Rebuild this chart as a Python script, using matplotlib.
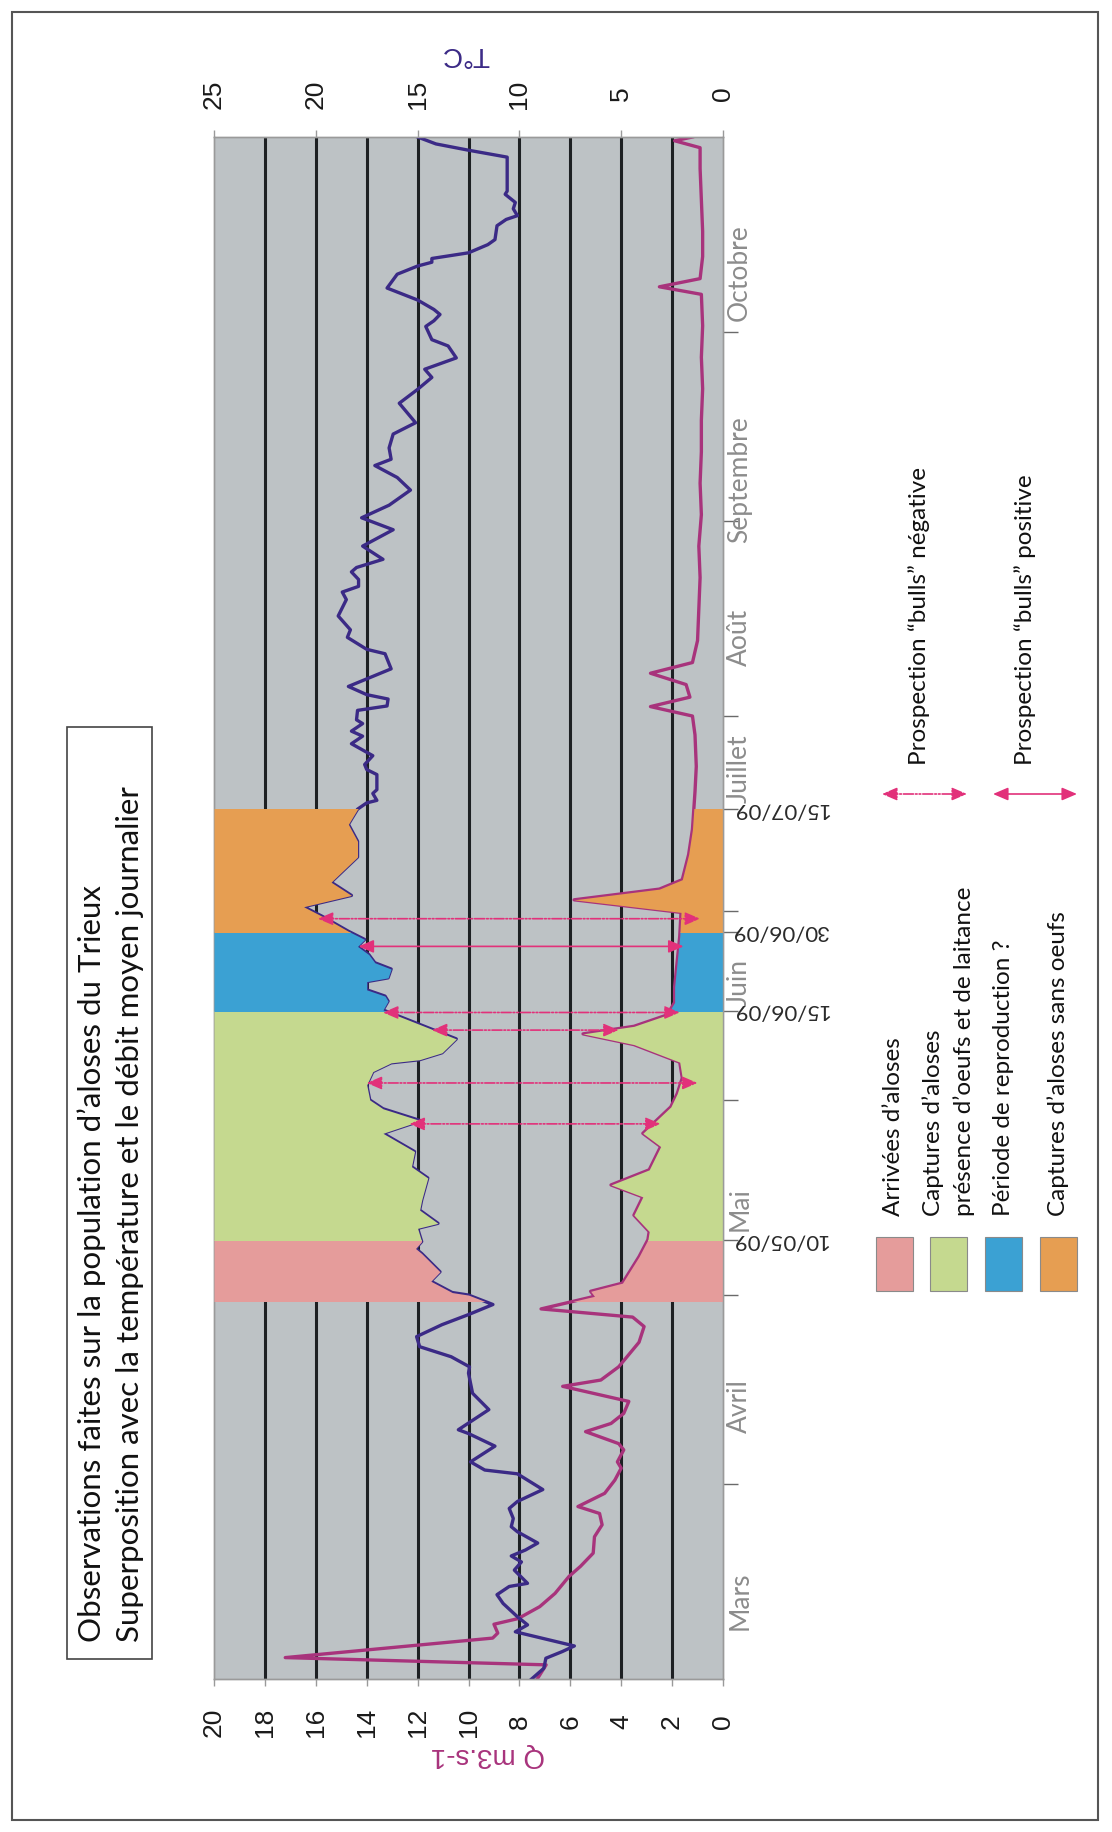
import numpy as np
import matplotlib
matplotlib.use("Agg")
import matplotlib.pyplot as plt
from matplotlib.patches import Rectangle, FancyArrowPatch

plt.rcParams['font.family'] = ['Lato', 'DejaVu Sans']

W, H = 1112, 1832

# water temperature (°C), day 0 = 1 March 2009
temp_day = [0.0, 1.7, 3.3, 4.35, 5.25, 7.5, 8.6, 9.9, 12.0, 13.4, 14.7, 15.2, 17.3, 18.6,
            19.55, 20.5, 21.6, 23.4, 24.2, 25.5, 27.1, 28.2, 30.1, 32.6, 33.2, 34.5, 37.0,
            39.0, 39.6, 42.8, 45.4, 48.6, 49.6, 51.2, 52.8, 54.4, 56.3, 57.9, 59.5, 61.0,
            61.4, 63.2, 64.7, 67.6, 68.4, 69.5, 71.6, 72.4, 74.5, 76.1, 79.6, 81.4, 83.8,
            86.7, 88.7, 90.6, 92.0, 92.8, 94.4, 96.5, 97.9, 98.4, 99.5, 101.7, 106.3, 107.7,
            108.5, 109.5, 110.8, 111.4, 112.8, 113.8, 115.1, 116.4, 117.5, 118.8, 121.2,
            122.7, 124.5, 126.6, 128.3, 130.6, 133.1, 135.8, 138.2, 139.2, 139.6, 140.7,
            141.3, 143.7, 144.5, 145.3, 146.7, 148.6, 149.8, 150.6, 151.8, 152.4, 153.9,
            154.6, 155.7, 156.4, 157.7, 158.9, 160.5, 162.9, 163.6, 165.5, 166.7, 168.9,
            171.5, 172.7, 173.6, 174.7, 175.9, 176.6, 177.9, 180.0, 182.6, 184.5, 186.5,
            188.9, 190.9, 192.8, 193.8, 195.6, 197.8, 199.6, 202.7, 204.9, 206.8, 208.1,
            209.9, 211.8, 212.8, 214.9, 215.8, 216.8, 217.6, 219.1, 221.0, 223.2, 224.5,
            225.1, 225.7, 226.6, 227.9, 228.7, 230.9, 231.9, 232.5, 233.6, 234.6, 235.9,
            236.4, 241.8, 242.9, 243.9, 245.0]
temp_val = [9.4, 8.8, 8.7, 7.9, 7.3, 10.2, 9.6, 10.1, 10.8, 11.1, 10.5, 9.6, 10.25, 9.9,
            10.4, 9.7, 9.1, 10.1, 10.4, 10.3, 10.5, 10.1, 8.85, 10.1, 11.7, 12.4, 11.2,
            12.5, 13.0, 11.5, 12.3, 12.5, 12.45, 13.35, 14.9, 15.05, 13.8, 12.5, 11.3, 12.5,
            13.3, 14.35, 13.9, 14.8, 15.1, 14.8, 15.0, 14.0, 14.9, 14.8, 14.5, 15.3, 15.15,
            16.7, 14.85, 16.7, 17.35, 17.4, 17.5, 17.2, 16.3, 14.9, 13.8, 13.1, 16.7, 16.45,
            16.6, 17.5, 17.5, 16.45, 16.3, 17.1, 17.4, 17.95, 17.6, 18.4, 19.7,
            20.6, 18.25, 19.25, 18.7, 17.95, 17.95, 18.4, 17.95, 17.5, 17.0, 17.2,
            17.0, 17.0, 17.5, 17.6, 17.2, 18.25, 17.7, 18.25, 17.7, 18.0, 17.95,
            16.5, 16.45, 17.5, 18.4, 17.5, 16.3, 16.6, 17.5, 18.45, 18.3, 18.9,
            18.5, 18.7, 17.9, 17.9, 18.25, 18.0, 16.7, 17.7, 16.2, 17.75, 16.4,
            15.35, 16.0, 17.1, 16.3, 16.4, 16.2, 15.1, 15.9, 15.0, 14.3, 14.65,
            13.1, 13.5, 14.3, 14.6, 14.2, 13.9, 14.2, 15.0, 16.5, 16.0, 15.0,
            14.3, 14.3, 12.5, 11.55, 11.2, 11.1, 10.65, 10.1, 10.3, 10.2, 10.7,
            10.6, 10.6, 12.5, 14.1, 15.0]

# daily mean flow (m3/s)
flow_day = [0.0, 2.25, 3.4, 6.5, 7.3, 8.7, 9.6, 11.5, 13.6, 16.3, 17.9, 20.0, 22.6, 24.5,
            26.3, 27.4, 29.5, 31.6, 33.5, 34.5, 36.4, 37.4, 39.3, 40.6, 42.2, 44.1, 46.5,
            47.5, 49.6, 53.5, 56.0, 57.5, 58.8, 60.8, 61.6, 62.9, 67.1, 69.8, 71.1, 73.7,
            76.6, 78.5, 80.9, 84.6, 86.7, 90.9, 93.0, 95.5, 98.0, 100.8, 102.5, 103.7,
            105.5, 107.5, 110.0, 114.0, 118.0, 121.8, 123.8, 125.5, 127.0, 131.0, 135.0,
            138.0, 141.0, 145.0, 150.0, 153.0, 154.5, 156.0, 158.0, 159.8, 161.5, 165.0,
            170.0, 175.0, 180.0, 185.0, 190.0, 195.0, 200.0, 205.0, 210.0, 215.0, 220.0,
            221.2, 222.5, 226.0, 230.0, 235.0, 240.0, 243.3, 244.4, 245.0]
flow_val = [7.3, 6.95, 17.2, 9.05, 8.85, 9.0, 8.05, 7.2, 6.6, 6.05, 5.6, 5.1, 5.05, 4.75,
            4.85, 5.7, 4.65, 4.25, 4.0, 4.15, 3.9, 4.1, 5.4, 4.4, 3.9, 3.7, 6.3,
            4.8, 4.1, 3.3, 3.1, 3.55, 7.15, 5.05, 5.2, 3.95, 3.3, 2.95, 2.9, 3.5,
            3.15, 4.4, 2.9, 2.45, 3.15, 2.05, 1.8, 1.6, 1.7, 3.5, 5.5, 3.5,
            2.2, 1.9, 1.9, 1.8, 1.7, 1.65, 5.85, 2.5, 1.6, 1.35, 1.2,
            1.15, 1.1, 1.05, 1.1, 1.2, 2.85, 1.3, 1.45, 2.85, 1.2, 1.0,
            0.95, 0.9, 0.95, 0.85, 0.9, 0.85, 0.85, 0.8, 0.85, 0.8, 0.85,
            2.5, 0.9, 0.8, 0.8, 0.85, 0.9, 0.9, 1.9, 1.2]

month_names = ['Mars', 'Avril', 'Mai', 'Juin', 'Juillet', 'Août', 'Septembre', 'Octobre']
month_days = [31, 30, 31, 30, 31, 31, 30, 31]
month_label_day = [15.5, 46, 76.5, 112.8, 148.5, 168.5, 199, 229.5]

period_labels = ['Arrivées d\u2019aloses',
                 'Captures d\u2019aloses\nprésence d\u2019oeufs et de laitance',
                 'Période de reproduction ?',
                 'Captures d\u2019aloses sans oeufs']
period_start = [60.0, 69.7, 106.2, 118.7]
period_end = [69.7, 106.2, 118.7, 138.2]
period_colors = ['#e59c9b', '#c5d98f', '#3ba1d3', '#e69e52']

date_labels = ['10/05/09', '15/06/09', '30/06/09', '15/07/09']
date_days = [69.7, 106.2, 118.7, 138.2]

# "bulls" prospections : day, temperature end, flow end, positive or not
bulls_day = [88.2, 94.7, 103.1, 105.9, 116.4, 120.8]
bulls_temp = [15.4, 17.5, 14.3, 16.7, 17.9, 19.9]
bulls_flow = [2.45, 1.0, 4.1, 1.7, 1.55, 0.9]
bulls_positive = [False, False, False, False, True, False]
bulls_labels = ['Prospection \u201cbulls\u201d négative', 'Prospection \u201cbulls\u201d positive']

T_COLOR = '#3b2a86'
Q_COLOR = '#a8337c'
ARROW = '#e2317a'
DASH = (0, (6, 1.2, 1, 1.2, 1, 1.2))


def fx(x):
    return x / W


def fy(y):
    return 1 - y / H


fig = plt.figure(figsize=(W / 100, H / 100), dpi=100, facecolor='white')

ax = fig.add_axes([fx(214), fy(1679), (723 - 214) / W, (1679 - 137) / H])
ax.set_facecolor('#bdc2c5')
ax.set_xlim(20, 0)
ax.set_ylim(0, sum(month_days))

for q in range(2, 20, 2):
    ax.axvline(q, color='#1d2023', lw=2.2, zorder=1)

ax.plot(flow_val, flow_day, color=Q_COLOR, lw=2.4, zorder=2)
for d0, d1, c in zip(period_start, period_end, period_colors):
    poly = ax.fill_betweenx(flow_day, 0, flow_val, color=c, lw=0, zorder=3)
    poly.set_clip_path(Rectangle((0, d0), 20, d1 - d0, transform=ax.transData))

ax2 = ax.twiny()
ax2.set_xlim(25, 0)
ax2.plot(temp_val, temp_day, color=T_COLOR, lw=2.4, zorder=2)
for d0, d1, c in zip(period_start, period_end, period_colors):
    poly = ax2.fill_betweenx(temp_day, temp_val, 25, color=c, lw=0, zorder=3)
    poly.set_clip_path(Rectangle((0, d0), 25, d1 - d0, transform=ax2.transData))

for d, t, q, pos in zip(bulls_day, bulls_temp, bulls_flow, bulls_positive):
    ax2.add_patch(FancyArrowPatch((t, d), (q * 25 / 20, d),
                                  arrowstyle='<|-|>,head_length=0.7,head_width=0.3',
                                  mutation_scale=13, color=ARROW, lw=1.2,
                                  linestyle='-' if pos else DASH,
                                  shrinkA=0, shrinkB=0, zorder=6))

# value axes
ax.set_xticks(range(0, 21, 2))
ax.tick_params(axis='x', bottom=True, top=False, labelbottom=True, length=5, width=1,
               color='#9a9a9a', labelsize=19, labelrotation=90, pad=26,
               labelcolor='#1a1a1a', labelfontfamily='Liberation Sans')
for lbl in ax.get_xticklabels():
    lbl.set_verticalalignment('center')

ax2.set_xticks(range(0, 26, 5))
ax2.tick_params(axis='x', top=True, labeltop=True, length=5, width=1,
                color='#9a9a9a', labelsize=19, labelrotation=90, pad=26,
                labelcolor='#1a1a1a', labelfontfamily='Liberation Sans')
for lbl in ax2.get_xticklabels():
    lbl.set_verticalalignment('center')

# time axis
bounds = np.cumsum([0] + month_days)
ax.yaxis.tick_right()
ax.set_yticks(sorted(list(bounds[1:-1]) + date_days))
ax.set_yticks(month_label_day, minor=True)
ax.set_yticklabels(month_names, minor=True)
ax.tick_params(axis='y', which='major', right=True, left=False, labelright=False,
               length=11, width=1, color='#6a6a6a')
ax.tick_params(axis='y', which='minor', right=True, left=False, labelright=True,
               labelleft=False, length=0, labelrotation=90, labelsize=19,
               labelcolor='#8c8c8c', pad=3)

for d, s in zip(date_days, date_labels):
    ax.annotate(s, xy=(1, d), xycoords=ax.get_yaxis_transform(), xytext=(6, 0),
                textcoords='offset points', rotation=180, ha='left', va='center',
                fontsize=16, color='#2a2a2a')

for a in (ax, ax2):
    for s in a.spines.values():
        s.set_color('#9a9a9a')
        s.set_linewidth(1)

fig.text(fx(465), fy(54), 'T°C', rotation=180, ha='center', va='center',
         color=T_COLOR, fontsize=20, family='Liberation Sans')
fig.text(fx(488), fy(1755), 'Q m3.s-1', rotation=180, ha='center', va='center',
         color=Q_COLOR, fontsize=20, family='Liberation Sans')

# title box
fig.add_artist(Rectangle((fx(67), fy(1659)), (152 - 67) / W, (1659 - 727) / H,
                         transform=fig.transFigure, facecolor='white',
                         edgecolor='#444444', lw=1.2))
fig.text(fx(92), fy(1642), 'Observations faites sur la population d\u2019aloses du Trieux',
         rotation=90, ha='center', va='bottom', fontsize=22.5, color='#111111')
fig.text(fx(130), fy(1642), 'Superposition avec la température et le débit moyen journalier',
         rotation=90, ha='center', va='bottom', fontsize=22.5, color='#111111')

# legend of periods
for i, (lab, c) in enumerate(zip(period_labels, period_colors)):
    cx = 894 + i * 54.7
    fig.add_artist(Rectangle((fx(cx - 18.5), fy(1291)), 37 / W, 54 / H,
                             transform=fig.transFigure, facecolor=c,
                             edgecolor='#8a8a8a', lw=0.8))
    lines = lab.split('\n')
    for j, line in enumerate(lines):
        x = cx + (j - (len(lines) - 1) / 2) * 31
        fig.text(fx(x), fy(1216), line, rotation=90, ha='center', va='bottom',
                 fontsize=17.5, color='#111111')

# legend of prospections
for lab, tx, x0, x1, pos in zip(bulls_labels, [919, 1025], [882, 993], [967, 1077],
                                [False, True]):
    fig.add_artist(FancyArrowPatch((fx(x0), fy(794)), (fx(x1), fy(794)),
                                   transform=fig.transFigure,
                                   arrowstyle='<|-|>,head_length=0.7,head_width=0.3',
                                   mutation_scale=13, color=ARROW, lw=1.2,
                                   linestyle='-' if pos else DASH,
                                   shrinkA=0, shrinkB=0))
    fig.text(fx(tx), fy(765), lab, rotation=90, ha='center', va='bottom',
             fontsize=17.5, color='#111111')

# outer frame
fig.add_artist(Rectangle((fx(12), fy(1820)), (1098 - 12) / W, (1820 - 12) / H,
                         transform=fig.transFigure, fill=False,
                         edgecolor='#555555', lw=1.5))

fig.savefig('out.png', dpi=100, facecolor='white')
